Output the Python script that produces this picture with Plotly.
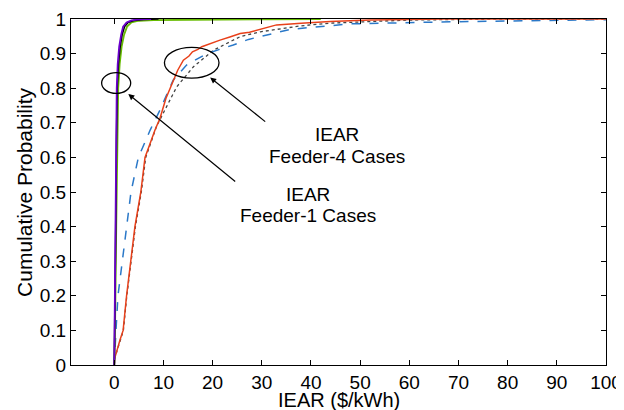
import plotly.graph_objects as go

# ---- Feeder-4 cases (IEAR) ----
red_x = [0, 0.1, 1.16, 1.8, 2.5, 3.4, 4.2, 5.4, 6.25, 8.3, 9.3, 10.5, 11.7, 12.9, 14.05, 15.2, 15.9, 17.0, 17.8, 19.6, 21.5, 23.5, 25.6, 27.5, 29.7, 33, 38, 43.9, 52, 60.2, 67, 100]
red_y = [0, 0.02, 0.072, 0.1, 0.2, 0.3, 0.4, 0.5, 0.6, 0.68, 0.713, 0.77, 0.814, 0.852, 0.881, 0.893, 0.905, 0.912, 0.92, 0.93, 0.939, 0.948, 0.958, 0.962, 0.97, 0.983, 0.988, 0.993, 0.997, 0.9995, 1.0, 1.0]

blue_x = [0, 0.2, 0.35, 0.75, 1.6, 2.4, 3.4, 4.9, 7.3, 9.3, 12, 14.7, 18.8, 24.2, 27.3, 35.8, 48, 68.4, 88.8, 100]
blue_y = [0, 0.08, 0.1, 0.2, 0.3, 0.4, 0.5, 0.6, 0.679, 0.737, 0.824, 0.867, 0.9, 0.925, 0.941, 0.97, 0.986, 0.992, 0.996, 0.998]

dot_x = [0, 0.1, 1.2, 1.85, 2.55, 3.45, 4.3, 5.5, 6.4, 8.6, 9.3, 12.7, 16.1, 20.2, 25.6, 29.7, 37.8, 43.9, 60, 80, 100]
dot_y = [0, 0.02, 0.07, 0.1, 0.2, 0.3, 0.4, 0.5, 0.6, 0.69, 0.71, 0.804, 0.862, 0.91, 0.949, 0.963, 0.98, 0.988, 0.997, 1.0, 1.0]

# ---- Feeder-1 cases (IEAR) ----
f1_y = [0, 0.1, 0.4, 0.65, 0.8, 0.87, 0.92, 0.955, 0.978, 0.99, 0.996, 0.999, 1.0]
purple_x = [0, 0.05, 0.2, 0.35, 0.5, 0.7, 1.0, 1.4, 1.8, 2.5, 3.5, 5, 7.5]
black_x = [0, 0.1, 0.3, 0.45, 0.6, 0.85, 1.2, 1.6, 2.1, 2.8, 4, 6, 9]
green_x = [0, 0.15, 0.4, 0.6, 0.8, 1.1, 1.5, 2.0, 2.6, 3.5, 5, 8, 14, 31, 42]
green_y = [0, 0.1, 0.4, 0.65, 0.8, 0.87, 0.92, 0.955, 0.978, 0.99, 0.995, 0.997, 0.998, 0.999, 1.0]

x_ticks = [0, 10, 20, 30, 40, 50, 60, 70, 80, 90, 100]
y_ticks = [0, 0.1, 0.2, 0.3, 0.4, 0.5, 0.6, 0.7, 0.8, 0.9, 1]
y_tick_text = ["0", "0.1", "0.2", "0.3", "0.4", "0.5", "0.6", "0.7", "0.8", "0.9", "1"]

FONT = "Liberation Sans, Arial, sans-serif"

fig = go.Figure()
fig.add_trace(go.Scatter(x=dot_x, y=dot_y, mode="lines", line=dict(color="#444444", width=1.3, dash="dot")))
fig.add_trace(go.Scatter(x=blue_x, y=blue_y, mode="lines", line=dict(color="#2a78c8", width=1.5, dash="dash")))
fig.add_trace(go.Scatter(x=red_x, y=red_y, mode="lines", line=dict(color="#e8401a", width=1.5)))
fig.add_trace(go.Scatter(x=green_x, y=green_y, mode="lines", line=dict(color="#66bb00", width=1.8)))
fig.add_trace(go.Scatter(x=black_x, y=f1_y, mode="lines", line=dict(color="#000000", width=1.6)))
fig.add_trace(go.Scatter(x=purple_x, y=f1_y, mode="lines", line=dict(color="#6a00cc", width=1.8)))

# ellipses
fig.add_shape(type="circle", xref="x", yref="y", x0=-2.57, x1=3.34, y0=0.785, y1=0.845,
              line=dict(color="black", width=1.3))
fig.add_shape(type="circle", xref="x", yref="y", x0=10.2, x1=21.3, y0=0.829, y1=0.918,
              line=dict(color="black", width=1.3))

# arrows
fig.add_annotation(x=2.85, y=0.783, ax=24.9, ay=0.527, xref="x", yref="y", axref="x", ayref="y",
                   text="", showarrow=True, arrowhead=2, arrowsize=1, arrowwidth=1.2, arrowcolor="black")
fig.add_annotation(x=19.5, y=0.831, ax=31.0, ay=0.70, xref="x", yref="y", axref="x", ayref="y",
                   text="", showarrow=True, arrowhead=2, arrowsize=1, arrowwidth=1.2, arrowcolor="black")

# labels
for txt, xx, yy in [("IEAR", 45.3, 0.665), ("Feeder-4 Cases", 45.3, 0.602),
                    ("IEAR", 39.3, 0.494), ("Feeder-1 Cases", 39.3, 0.431)]:
    fig.add_annotation(x=xx, y=yy, xref="x", yref="y", text=txt, showarrow=False,
                       font=dict(family=FONT, size=19, color="black"), xanchor="center", yanchor="middle")

# axis titles
fig.add_annotation(x=0.5, y=-0.1, xref="paper", yref="paper", text="IEAR ($/kWh)", showarrow=False,
                   font=dict(family=FONT, size=20, color="black"), xanchor="center", yanchor="middle")
fig.add_annotation(x=-0.088, y=0.5, xref="paper", yref="paper", text="Cumulative Probability",
                   showarrow=False, textangle=-90,
                   font=dict(family=FONT, size=21, color="black"), xanchor="center", yanchor="middle")

axis_common = dict(showgrid=False, zeroline=False, showline=True, linecolor="black", linewidth=1.3,
                   mirror="allticks", ticks="inside", ticklen=5, tickcolor="black", tickwidth=1,
                   automargin=False,
                   tickfont=dict(family=FONT, size=19, color="black"))

fig.update_xaxes(range=[-8.8, 100], tickvals=x_ticks, **axis_common)
fig.update_yaxes(range=[0, 1], tickvals=y_ticks, ticktext=y_tick_text, **axis_common)

# page has an 8px body margin: figure is placed at (8, 8)
fig.update_layout(width=616, height=402, margin=dict(l=63, r=18, t=11, b=45),
                  paper_bgcolor="white", plot_bgcolor="white", showlegend=False)

fig.write_html("out.html")
